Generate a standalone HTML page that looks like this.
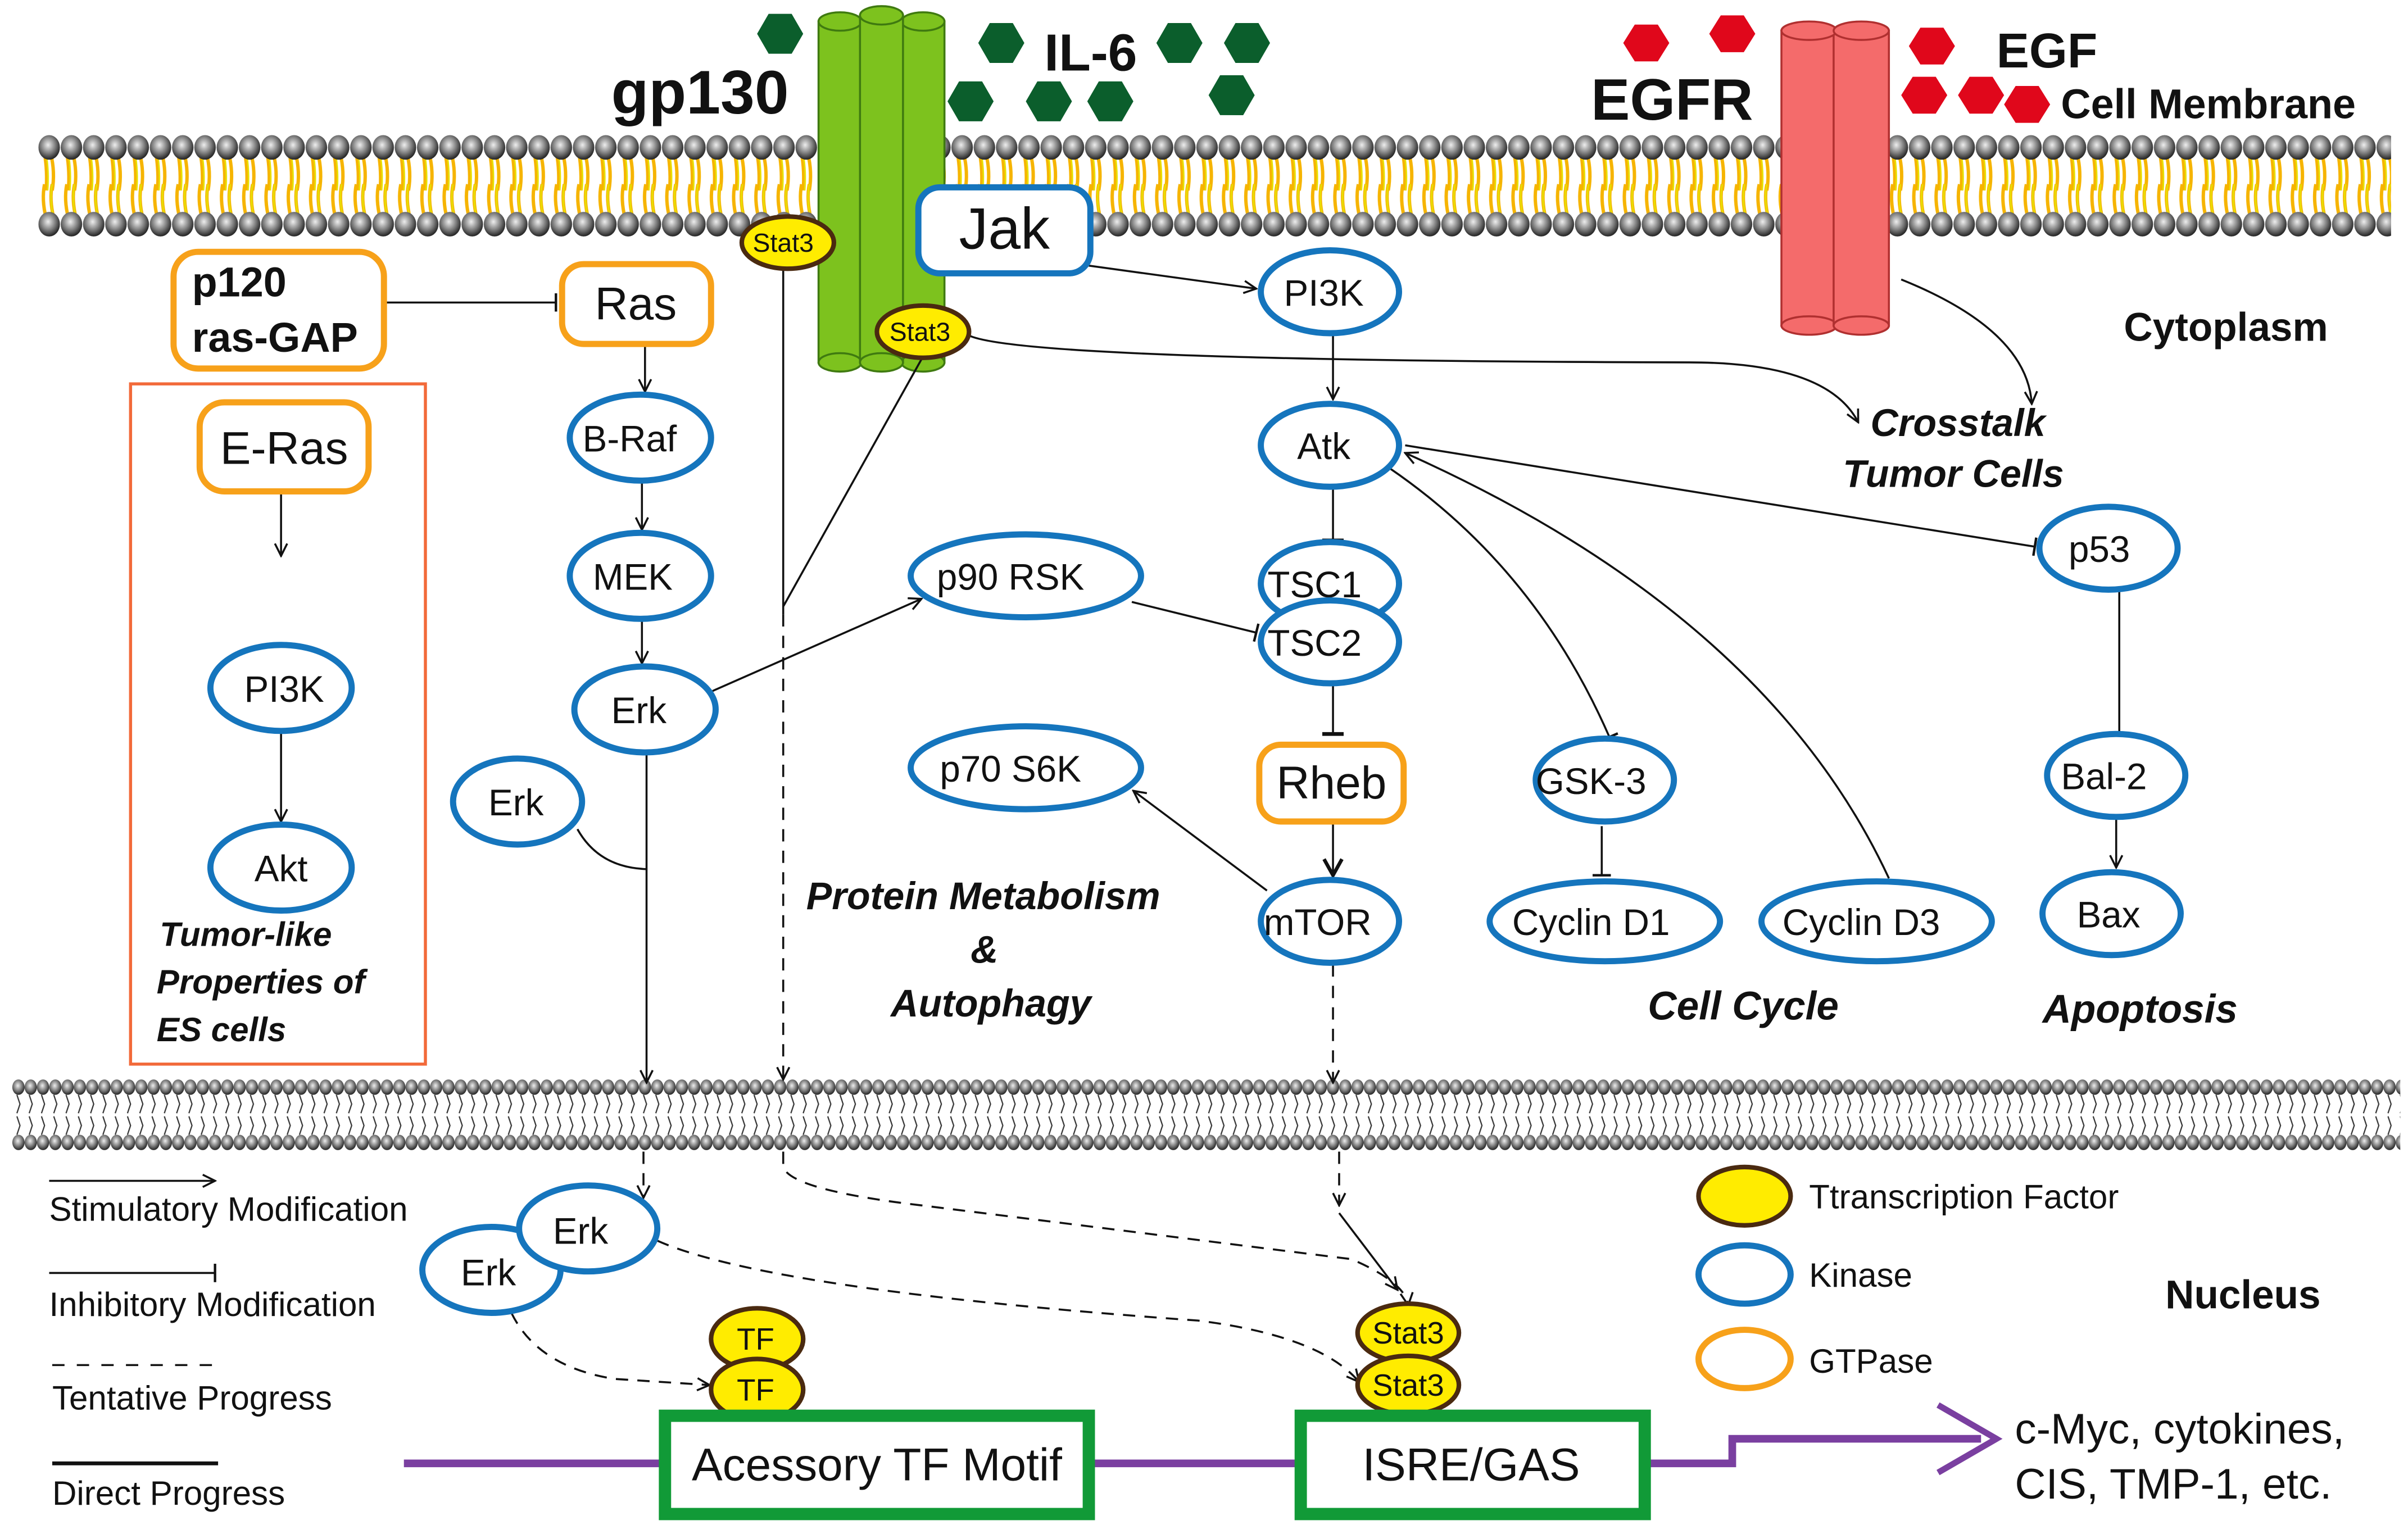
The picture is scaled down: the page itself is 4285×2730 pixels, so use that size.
<!DOCTYPE html>
<html><head><meta charset="utf-8"><style>
html,body{margin:0;padding:0;background:#fff}
svg{display:block}
text{font-family:"Liberation Sans Narrow","Liberation Sans",sans-serif;fill:#111}
.b{font-family:"Liberation Sans",sans-serif;font-weight:bold}
.bi{font-family:"Liberation Sans",sans-serif;font-weight:bold;font-style:italic}
.k{fill:#fff;stroke:#1575bd;stroke-width:4}
.g{fill:#fff;stroke:#f7a11a;stroke-width:4}
.y{fill:#ffec00;stroke:#4a2a10;stroke-width:3}
.l{stroke:#111;stroke-width:1.3;fill:none}
.d{stroke:#111;stroke-width:1.3;fill:none;stroke-dasharray:8 6}
</style></head><body>
<svg width="4285" height="2730" viewBox="0 0 1568 999" xmlns="http://www.w3.org/2000/svg">
<defs>
<radialGradient id="ball" cx="0.45" cy="0.4" r="0.6"><stop offset="0" stop-color="#eee"/><stop offset="0.6" stop-color="#777"/><stop offset="1" stop-color="#222"/></radialGradient>
<pattern id="mem" x="25" y="88" width="14.5" height="66" patternUnits="userSpaceOnUse">
<path d="M4,12 q2,12 1,24 M8,12 q3,12 1,24 M4,32 q-2,10 1,22 M9,32 q-2,10 1,22" stroke="#f6b400" stroke-width="2.2" fill="none"/>
<path d="M5,12 q2,12 1,24 M9,32 q-2,10 1,22" stroke="#e8e000" stroke-width="1" fill="none"/>
<ellipse cx="7" cy="8" rx="7" ry="8" fill="url(#ball)"/>
<ellipse cx="7" cy="58" rx="7" ry="8" fill="url(#ball)"/>
</pattern>
<pattern id="mem2" x="8" y="703" width="8" height="46" patternUnits="userSpaceOnUse">
<ellipse cx="4" cy="5" rx="4" ry="5" fill="url(#ball)"/>
<ellipse cx="4" cy="41" rx="4" ry="5" fill="url(#ball)"/>
<path d="M3,10 l2,6 l-2,6 M3,24 l2,6 l-2,6" stroke="#333" stroke-width="0.8" fill="none"/>
</pattern>
<marker id="a" viewBox="0 0 10 10" refX="9" refY="5" markerWidth="10" markerHeight="10" markerUnits="userSpaceOnUse" orient="auto"><path d="M1,1 L9,5 L1,9" fill="none" stroke="#111" stroke-width="1.3"/></marker>
<marker id="t" viewBox="0 0 4 12" refX="2" refY="6" markerWidth="4" markerHeight="12" markerUnits="userSpaceOnUse" orient="auto"><path d="M2,0 V12" stroke="#111" stroke-width="1.6"/></marker>
<marker id="ab" viewBox="0 0 12 12" refX="10" refY="6" markerWidth="14" markerHeight="14" markerUnits="userSpaceOnUse" orient="auto"><path d="M1,1 L10,6 L1,11" fill="none" stroke="#111" stroke-width="2"/></marker>
<marker id="tb" viewBox="0 0 4 14" refX="2" refY="7" markerWidth="4" markerHeight="14" markerUnits="userSpaceOnUse" orient="auto"><path d="M2,0 V14" stroke="#111" stroke-width="2.5"/></marker>
</defs>

<!-- membranes -->
<rect x="25" y="88" width="1532" height="66" fill="url(#mem)"/>
<rect x="8" y="703" width="1555" height="46" fill="url(#mem2)"/>

<!-- IL-6 hexagons -->
<g fill="#0b5e2c">
<polygon points="0,-15 13,-7.5 13,7.5 0,15 -13,7.5 -13,-7.5" transform="translate(508,22) rotate(30)"/>
<polygon points="0,-15 13,-7.5 13,7.5 0,15 -13,7.5 -13,-7.5" transform="translate(652,28) rotate(30)"/>
<polygon points="0,-15 13,-7.5 13,7.5 0,15 -13,7.5 -13,-7.5" transform="translate(768,28) rotate(30)"/>
<polygon points="0,-15 13,-7.5 13,7.5 0,15 -13,7.5 -13,-7.5" transform="translate(812,28) rotate(30)"/>
<polygon points="0,-15 13,-7.5 13,7.5 0,15 -13,7.5 -13,-7.5" transform="translate(632,66) rotate(30)"/>
<polygon points="0,-15 13,-7.5 13,7.5 0,15 -13,7.5 -13,-7.5" transform="translate(683,66) rotate(30)"/>
<polygon points="0,-15 13,-7.5 13,7.5 0,15 -13,7.5 -13,-7.5" transform="translate(723,66) rotate(30)"/>
<polygon points="0,-15 13,-7.5 13,7.5 0,15 -13,7.5 -13,-7.5" transform="translate(802,62) rotate(30)"/>
</g>
<text x="398" y="74" class="b" font-size="40">gp130</text>
<text x="680" y="46" class="b" font-size="34">IL-6</text>

<!-- gp130 cylinders -->
<g fill="#7dc21e" stroke="#3f7a10" stroke-width="1.3">
<rect x="533" y="14" width="28" height="222"/><ellipse cx="547" cy="236" rx="14" ry="6"/><ellipse cx="547" cy="14" rx="14" ry="6"/>
<rect x="587" y="14" width="28" height="222"/><ellipse cx="601" cy="236" rx="14" ry="6"/><ellipse cx="601" cy="14" rx="14" ry="6"/>
<rect x="560" y="10" width="28" height="226"/><ellipse cx="574" cy="236" rx="14" ry="6"/><ellipse cx="574" cy="10" rx="14" ry="6"/>
</g>

<!-- EGF hexagons -->
<g fill="#e0071b">
<polygon points="-15,0 -7.5,-12 7.5,-12 15,0 7.5,12 -7.5,12" transform="translate(1072,28)"/>
<polygon points="-15,0 -7.5,-12 7.5,-12 15,0 7.5,12 -7.5,12" transform="translate(1128,22)"/>
<polygon points="-15,0 -7.5,-12 7.5,-12 15,0 7.5,12 -7.5,12" transform="translate(1258,30)"/>
<polygon points="-15,0 -7.5,-12 7.5,-12 15,0 7.5,12 -7.5,12" transform="translate(1253,62)"/>
<polygon points="-15,0 -7.5,-12 7.5,-12 15,0 7.5,12 -7.5,12" transform="translate(1290,62)"/>
<polygon points="-15,0 -7.5,-12 7.5,-12 15,0 7.5,12 -7.5,12" transform="translate(1320,68)"/>
</g>
<text x="1036" y="78" class="b" font-size="38">EGFR</text>
<text x="1300" y="44" class="b" font-size="32">EGF</text>
<text x="1342" y="77" class="b" font-size="27">Cell Membrane</text>
<g fill="#f46b6b" stroke="#b03030" stroke-width="1.3">
<rect x="1160" y="20" width="36" height="192"/><ellipse cx="1178" cy="212" rx="18" ry="6"/>
<rect x="1194" y="20" width="36" height="192"/><ellipse cx="1212" cy="212" rx="18" ry="6"/>
<ellipse cx="1178" cy="20" rx="18" ry="6"/><ellipse cx="1212" cy="20" rx="18" ry="6"/>
</g>

<!-- connectors -->
<path class="l" d="M709,173 L818,188" marker-end="url(#a)"/>
<path class="l" d="M250,197 L362,197" marker-end="url(#t)"/>
<path class="l" d="M420,224 V255" marker-end="url(#a)"/>
<path class="l" d="M418,313 V345" marker-end="url(#a)" stroke-width="2"/>
<path class="l" d="M418,402 V432" marker-end="url(#a)"/>
<path class="l" d="M183,322 V362" marker-end="url(#a)"/>
<path class="l" d="M183,476 V535" marker-end="url(#a)"/>
<path class="l" d="M464,450 L600,390" marker-end="url(#a)"/>
<path class="l" d="M737,392 L818,412" marker-end="url(#t)"/>
<path class="l" d="M421,490 V705" marker-end="url(#a)" stroke-width="2"/>
<path class="l" d="M376,540 Q390,565 421,566"/>
<path class="l" d="M868,218 V260" marker-end="url(#a)" stroke-width="2"/>
<path class="l" d="M868,318 V352" marker-end="url(#tb)" stroke-width="2"/>
<path class="l" d="M868,446 V478" marker-end="url(#tb)" stroke-width="2"/>
<path class="l" d="M868,537 V570" marker-end="url(#ab)" stroke-width="2"/>
<path class="l" d="M825,580 L738,515" marker-end="url(#a)"/>
<path class="l" d="M915,290 L1325,356" marker-end="url(#t)"/>
<path class="l" d="M905,305 Q1000,370 1048,480" marker-end="url(#t)"/>
<path class="l" d="M1230,572 Q1150,400 915,295" marker-end="url(#a)"/>
<path class="l" d="M1043,538 V570" marker-end="url(#t)"/>
<path class="l" d="M1380,385 V478" marker-end="url(#t)"/>
<path class="l" d="M1378,532 V565" marker-end="url(#a)"/>
<path class="l" d="M630,218 Q660,235 1100,236 Q1190,236 1210,275" marker-end="url(#a)"/>
<path class="l" d="M1238,182 Q1320,215 1323,263" marker-end="url(#a)"/>
<path class="l" d="M510,176 V400"/>
<path class="l" d="M600,234 L510,395"/>
<path class="d" d="M510,400 V703" marker-end="url(#a)"/>
<path class="d" d="M510,750 V760 Q515,775 600,785 L880,820 Q915,835 917,850" marker-end="url(#a)"/>
<path class="d" d="M868,628 V705" marker-end="url(#a)"/>
<path class="d" d="M872,750 V785" marker-end="url(#a)"/>
<path class="l" d="M872,790 L910,840" marker-end="url(#a)"/>
<path class="d" d="M419,750 V780" marker-end="url(#a)"/>
<path class="d" d="M428,808 Q500,840 780,860 Q860,870 885,900" marker-end="url(#a)"/>
<path class="d" d="M333,855 Q350,890 400,898 L462,902" marker-end="url(#a)"/>

<!-- red box -->
<rect x="85" y="250" width="192" height="443" fill="none" stroke="#f26a3a" stroke-width="2"/>

<!-- GTPase nodes -->
<rect x="113" y="164" width="137" height="76" rx="16" class="g"/>
<text x="125" y="193" class="b" font-size="27">p120</text>
<text x="125" y="229" class="b" font-size="27">ras-GAP</text>
<rect x="366" y="172" width="97" height="52" rx="14" class="g"/>
<text x="414" y="208" font-size="30" text-anchor="middle" font-family="Liberation Sans">Ras</text>
<rect x="130" y="262" width="110" height="58" rx="16" class="g"/>
<text x="185" y="302" font-size="30" text-anchor="middle" font-family="Liberation Sans">E-Ras</text>
<rect x="820" y="485" width="94" height="50" rx="14" class="g"/>
<text x="867" y="520" font-size="30" text-anchor="middle" font-family="Liberation Sans">Rheb</text>
<rect x="598" y="122" width="112" height="56" rx="14" class="k"/>
<text x="654" y="162" font-size="38" text-anchor="middle" font-family="Liberation Sans">Jak</text>

<!-- kinases -->
<g font-size="24" text-anchor="middle">
<ellipse cx="183" cy="448" rx="46" ry="28" class="k"/><text x="185" y="457">PI3K</text>
<ellipse cx="183" cy="565" rx="46" ry="28" class="k"/><text x="183" y="574">Akt</text>
<ellipse cx="417" cy="285" rx="46" ry="28" class="k"/><text x="410" y="294">B-Raf</text>
<ellipse cx="417" cy="375" rx="46" ry="28" class="k"/><text x="412" y="384">MEK</text>
<ellipse cx="420" cy="462" rx="46" ry="28" class="k"/><text x="416" y="471">Erk</text>
<ellipse cx="337" cy="522" rx="42" ry="28" class="k"/><text x="336" y="531">Erk</text>
<ellipse cx="668" cy="375" rx="75" ry="27" class="k"/><text x="658" y="384">p90 RSK</text>
<ellipse cx="668" cy="500" rx="75" ry="27" class="k"/><text x="658" y="509">p70 S6K</text>
<ellipse cx="866" cy="190" rx="45" ry="27" class="k"/><text x="862" y="199">PI3K</text>
<ellipse cx="866" cy="290" rx="45" ry="27" class="k"/><text x="862" y="299">Atk</text>
<ellipse cx="866" cy="380" rx="45" ry="27" class="k"/><text x="856" y="389">TSC1</text>
<ellipse cx="866" cy="418" rx="45" ry="27" class="k"/><text x="856" y="427">TSC2</text>
<ellipse cx="866" cy="600" rx="45" ry="27" class="k"/><text x="858" y="609">mTOR</text>
<ellipse cx="1045" cy="508" rx="45" ry="27" class="k"/><text x="1036" y="517">GSK-3</text>
<ellipse cx="1045" cy="600" rx="75" ry="26" class="k"/><text x="1036" y="609">Cyclin D1</text>
<ellipse cx="1222" cy="600" rx="75" ry="26" class="k"/><text x="1212" y="609">Cyclin D3</text>
<ellipse cx="1373" cy="357" rx="45" ry="27" class="k"/><text x="1367" y="366">p53</text>
<ellipse cx="1378" cy="505" rx="45" ry="27" class="k"/><text x="1370" y="514">Bal-2</text>
<ellipse cx="1375" cy="595" rx="45" ry="27" class="k"/><text x="1373" y="604">Bax</text>
<ellipse cx="320" cy="827" rx="45" ry="28" class="k"/><text x="318" y="837">Erk</text>
<ellipse cx="383" cy="800" rx="45" ry="28" class="k"/><text x="378" y="810">Erk</text>
</g>

<!-- Stat3 / TF -->
<g font-size="17" text-anchor="middle">
<ellipse cx="513" cy="158" rx="30" ry="17" class="y"/><text x="510" y="164">Stat3</text>
<ellipse cx="601" cy="216" rx="30" ry="17" class="y"/><text x="599" y="222">Stat3</text>
</g>
<g font-size="20" text-anchor="middle">
<ellipse cx="493" cy="872" rx="30" ry="20" class="y"/><text x="492" y="879">TF</text>
<ellipse cx="493" cy="905" rx="30" ry="20" class="y"/><text x="492" y="912">TF</text>
<ellipse cx="917" cy="868" rx="33" ry="19" class="y"/><text x="917" y="875">Stat3</text>
<ellipse cx="917" cy="902" rx="33" ry="19" class="y"/><text x="917" y="909">Stat3</text>
</g>

<!-- labels -->
<text x="1383" y="222" class="b" font-size="26">Cytoplasm</text>
<text x="1218" y="284" class="bi" font-size="25">Crosstalk</text>
<text x="1200" y="317" class="bi" font-size="25">Tumor Cells</text>
<text x="104" y="616" class="bi" font-size="22">Tumor-like</text>
<text x="102" y="647" class="bi" font-size="22">Properties of</text>
<text x="102" y="678" class="bi" font-size="22">ES cells</text>
<text x="525" y="592" class="bi" font-size="25">Protein Metabolism</text>
<text x="632" y="627" class="bi" font-size="25">&amp;</text>
<text x="580" y="662" class="bi" font-size="25">Autophagy</text>
<text x="1073" y="664" class="bi" font-size="26">Cell Cycle</text>
<text x="1330" y="666" class="bi" font-size="26">Apoptosis</text>
<text x="1410" y="852" class="b" font-size="26">Nucleus</text>

<!-- legend -->
<path class="l" d="M32,769 H140" marker-end="url(#a)"/>
<text x="32" y="795" font-size="22">Stimulatory Modification</text>
<path class="l" d="M32,829 H140" marker-end="url(#t)" stroke-width="2"/>
<text x="32" y="857" font-size="22">Inhibitory Modification</text>
<path d="M34,889 H145" stroke="#111" stroke-width="1.3" stroke-dasharray="8 8"/>
<text x="34" y="918" font-size="22">Tentative Progress</text>
<path d="M34,953 H142" stroke="#111" stroke-width="2.5"/>
<text x="34" y="980" font-size="22">Direct Progress</text>
<ellipse cx="1136" cy="779" rx="30" ry="19" class="y"/>
<text x="1178" y="787" font-size="22">Ttranscription Factor</text>
<ellipse cx="1136" cy="830" rx="30" ry="19" class="k"/>
<text x="1178" y="838" font-size="22">Kinase</text>
<ellipse cx="1136" cy="885" rx="30" ry="19" class="g"/>
<text x="1178" y="894" font-size="22">GTPase</text>

<!-- DNA -->
<path d="M263,953 H431 M711,953 H845 M1073,953 H1128 V937 H1290" stroke="#7a3fa0" stroke-width="5" fill="none"/>
<path d="M1262,915 L1300,937 L1262,959" stroke="#7a3fa0" stroke-width="4" fill="none"/>
<rect x="433" y="922" width="276" height="64" fill="#fff" stroke="#119a37" stroke-width="8"/>
<text x="571" y="964" font-size="30" text-anchor="middle" font-family="Liberation Sans">Acessory TF Motif</text>
<rect x="847" y="922" width="224" height="64" fill="#fff" stroke="#119a37" stroke-width="8"/>
<text x="958" y="964" font-size="30" text-anchor="middle" font-family="Liberation Sans">ISRE/GAS</text>
<text x="1312" y="940" font-size="28" font-family="Liberation Sans">c-Myc, cytokines,</text>
<text x="1312" y="976" font-size="28" font-family="Liberation Sans">CIS, TMP-1, etc.</text>
</svg>
</body></html>
